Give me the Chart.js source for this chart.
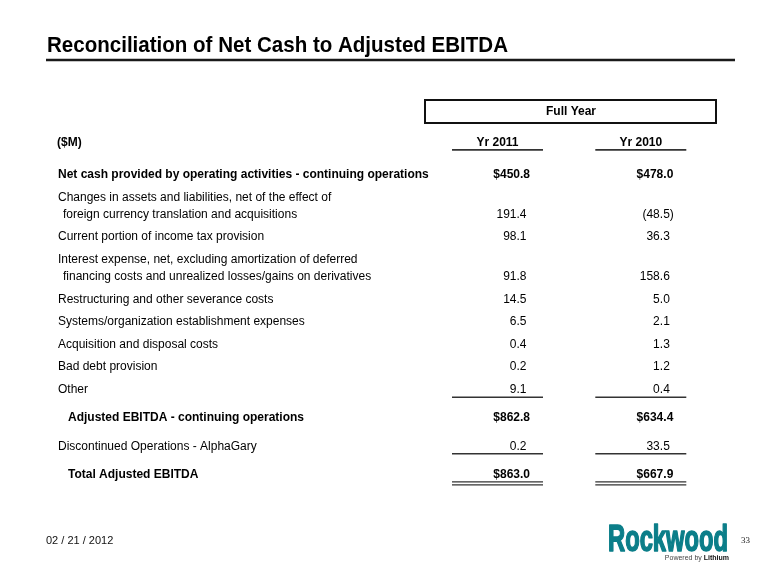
<!DOCTYPE html>
<html><head><meta charset="utf-8">
<script src="https://cdn.jsdelivr.net/npm/chart.js@4.4.1/dist/chart.umd.min.js"></script>
<style>html,body{margin:0;padding:0;background:#fff;}canvas{display:block;}</style>
</head><body>
<canvas id="c" width="780" height="585"></canvas>
<script>
// ---------- data ----------
const title = 'Reconciliation of Net Cash to Adjusted EBITDA';
const groupLabel = 'Full Year';
const unitLabel = '($M)';
const columns = ['Yr 2011', 'Yr 2010'];
const rowLabels = [
  'Net cash provided by operating activities - continuing operations',
  ['Changes in assets and liabilities, net of the effect of', 'foreign currency translation and acquisitions'],
  'Current portion of income tax provision',
  ['Interest expense, net, excluding amortization of deferred', 'financing costs and unrealized losses/gains on derivatives'],
  'Restructuring and other severance costs',
  'Systems/organization establishment expenses',
  'Acquisition and disposal costs',
  'Bad debt provision',
  'Other',
  'Adjusted EBITDA - continuing operations',
  'Discontinued Operations - AlphaGary',
  'Total Adjusted EBITDA'
];
const yr2011 = [450.8, 191.4, 98.1, 91.8, 14.5, 6.5, 0.4, 0.2, 9.1, 862.8, 0.2, 863.0];
const yr2010 = [478.0, -48.5, 36.3, 158.6, 5.0, 2.1, 1.3, 1.2, 0.4, 634.4, 33.5, 667.9];
const dateText = '02 / 21 / 2012';
const pageNumber = '33';
const logoText = 'Rockwood';
const logoTag = ['Powered by ', 'Lithium'];

// ---------- layout / style ----------
const rowKind = ['lead','item','item','item','item','item','item','item','item','subtotal','item','subtotal'];
const ruleBelow = {8: 'single', 10: 'single', 11: 'double'};
const LINE = 1, WRAP = 0.75, EXTRA = 0.25, HEADER_POS = -1.42;
const FONT = '"Liberation Sans", Arial, sans-serif';

const rowPos = [];
{
  let p = 0;
  rowLabels.forEach((lab, i) => {
    const n = Array.isArray(lab) ? lab.length : 1;
    if (i > 0) {
      p += LINE + (n - 1) * WRAP;
      if (ruleBelow[i - 1] || rowKind[i - 1] === 'subtotal') p += EXTRA;
    }
    rowPos.push(p);
  });
}

function fmt(v, kind) {
  let s = Math.abs(v).toFixed(1);
  if (kind !== 'item') s = '$' + s;
  return v < 0 ? '(' + s + ')' : s;
}

function fitText(ctx, txt, x, y, w, stroke) {
  const m = ctx.measureText(txt).width;
  ctx.save();
  ctx.translate(x, y);
  ctx.scale(w / m, 1);
  if (stroke) { ctx.strokeStyle = ctx.fillStyle; ctx.lineWidth = stroke; ctx.lineJoin = 'round'; ctx.strokeText(txt, 0, 0); }
  ctx.fillText(txt, 0, 0);
  ctx.restore();
}

const tablePlugin = {
  id: 'table',
  afterDraw(chart) {
    const ctx = chart.ctx, xs = chart.scales.x, ys = chart.scales.y;
    ctx.save();
    ctx.fillStyle = '#000';
    ctx.textBaseline = 'alphabetic';

    // title
    ctx.font = 'bold 22px ' + FONT;
    ctx.textAlign = 'left';
    fitText(ctx, title, 47, 52, 461);
    ctx.strokeStyle = '#1a1a1a';
    ctx.lineWidth = 2.5;
    ctx.beginPath(); ctx.moveTo(46, 60); ctx.lineTo(735, 60); ctx.stroke();

    // group box
    ctx.lineWidth = 2;
    ctx.strokeStyle = '#111';
    ctx.strokeRect(425, 100, 291, 23);
    ctx.font = 'bold 12px ' + FONT;
    ctx.textAlign = 'center';
    ctx.textBaseline = 'middle';
    ctx.fillText(groupLabel, 571, 112);

    // header row
    const hy = ys.getPixelForValue(HEADER_POS);
    ctx.textAlign = 'left';
    ctx.fillText(unitLabel, 57, hy);
    ctx.strokeStyle = '#333';
    ctx.lineWidth = 1.6;
    columns.forEach((c, i) => {
      const cx = xs.getPixelForValue(i);
      ctx.textAlign = 'center';
      ctx.fillText(c, cx, hy);
      ctx.beginPath(); ctx.moveTo(cx - 45.5, hy + 7); ctx.lineTo(cx + 45.5, hy + 7); ctx.stroke();
    });

    // row labels
    const lineGap = WRAP * (ys.getPixelForValue(1) - ys.getPixelForValue(0));
    rowLabels.forEach((lab, i) => {
      const y = ys.getPixelForValue(rowPos[i]);
      const lines = Array.isArray(lab) ? lab : [lab];
      const kind = rowKind[i];
      ctx.font = (kind === 'item' ? '' : 'bold ') + '12px ' + FONT;
      ctx.textAlign = 'left';
      const x0 = kind === 'subtotal' ? 68 : 58;
      lines.forEach((t, k) => {
        const ly = y - (lines.length - 1 - k) * lineGap;
        ctx.fillText(t, k > 0 ? x0 + 5 : x0, ly);
      });
    });

    // values
    const series = [yr2011, yr2010];
    series.forEach((vals, d) => {
      const meta = chart.getDatasetMeta(d);
      meta.data.forEach((pt, i) => {
        const kind = rowKind[i];
        const bold = kind !== 'item';
        ctx.font = (bold ? 'bold ' : '') + '12px ' + FONT;
        ctx.textAlign = 'right';
        const v = vals[i];
        const right = pt.x + (bold ? 32.5 : 29) + (v < 0 ? 4 : 0);
        ctx.fillText(fmt(v, kind), right, pt.y);
        const rule = ruleBelow[i];
        if (rule) {
          ctx.strokeStyle = '#333';
          if (rule === 'single') {
            ctx.lineWidth = 1.6;
            ctx.beginPath(); ctx.moveTo(pt.x - 45.5, pt.y + 7.5); ctx.lineTo(pt.x + 45.5, pt.y + 7.5); ctx.stroke();
          } else {
            ctx.lineWidth = 1.2;
            [7.5, 10.5].forEach(o => {
              ctx.beginPath(); ctx.moveTo(pt.x - 45.5, pt.y + o); ctx.lineTo(pt.x + 45.5, pt.y + o); ctx.stroke();
            });
          }
        }
      });
    });

    // footer
    ctx.textBaseline = 'middle';
    ctx.textAlign = 'left';
    ctx.font = '11px ' + FONT;
    ctx.fillStyle = '#111';
    ctx.fillText(dateText, 46, 541);

    ctx.fillStyle = '#0b7e89';
    ctx.textBaseline = 'alphabetic';
    ctx.font = 'bold 36px ' + FONT;
    fitText(ctx, logoText, 608, 551, 120, 1.6);
    ctx.textAlign = 'right';
    ctx.font = 'bold 7px ' + FONT;
    ctx.fillStyle = '#111';
    ctx.fillText(logoTag[1], 729, 560);
    const litW = ctx.measureText(logoTag[1]).width;
    ctx.font = '7px ' + FONT;
    ctx.fillStyle = '#444';
    ctx.fillText(logoTag[0], 729 - litW, 560);

    ctx.fillStyle = '#222';
    ctx.textAlign = 'left';
    ctx.textBaseline = 'middle';
    ctx.font = '9px "Liberation Serif", "Times New Roman", serif';
    ctx.fillText(pageNumber, 741, 541);
    ctx.restore();
  }
};

new Chart(document.getElementById('c'), {
  type: 'scatter',
  data: {
    datasets: [
      { label: columns[0], data: yr2011.map((v, i) => ({ x: columns[0], y: rowPos[i] })), pointRadius: 0, showLine: false },
      { label: columns[1], data: yr2010.map((v, i) => ({ x: columns[1], y: rowPos[i] })), pointRadius: 0, showLine: false }
    ]
  },
  options: {
    responsive: false,
    animation: false,
    devicePixelRatio: 1,
    layout: { padding: { left: 425.85, right: 67.55, top: 129.8, bottom: 93.6 } },
    plugins: { legend: { display: false }, tooltip: { enabled: false } },
    scales: {
      x: { type: 'category', labels: columns, offset: true, display: false },
      y: { type: 'linear', min: -2, max: 14, reverse: true, display: false }
    }
  },
  plugins: [tablePlugin]
});
</script>
</body></html>
